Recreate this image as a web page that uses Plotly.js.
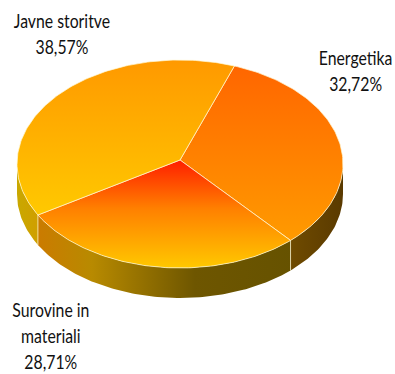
<!DOCTYPE html>
<html><head><meta charset="utf-8">
<script src="https://cdn.plot.ly/plotly-3.0.1.min.js"></script>
<style>html,body{margin:0;padding:0;background:#fff;overflow:hidden}#c{width:395px;height:374px}</style>
</head><body><div id="c"></div>
<script>
const categories = ['Energetika', 'Surovine in<br>materiali', 'Javne storitve'];
const values = [32.72, 28.71, 38.57];
const valueLabels = ['32,72%', '28,71%', '38,57%'];
const topGradients = [
  [[0,'#FF6600'],[1,'#FF9A00']],
  [[0,'#FF1E00'],[0.45,'#FF8000'],[1,'#FFC800']],
  [[0,'#FF9900'],[1,'#FFC800']]
];
const topStops = [[66,239],[160,268],[60,212]];
const sideGradients = [
  [[0,'#6E4A00'],[1,'#5A3A00']],
  [[0,'#CC7A00'],[0.22,'#B88A00'],[0.62,'#6E5600'],[1,'#665200']],
  [[0,'#C9A800'],[1,'#CFA000']]
];
const sideStops = [[293,343],[35,293],[17,35]];
const labelPos = [[355,70],[51,335],[62,33]];

const cx=180, cy=164, rx=163, ry=104, hubY=160, depth=30, startDeg=19.5;
const px=d=>cx+rx*Math.sin(d*Math.PI/180), py=d=>cy-ry*Math.cos(d*Math.PI/180);
const total=values.reduce((a,b)=>a+b,0);
let angle=startDeg; const spans=values.map(v=>{const s=[angle,angle+v/total*360];angle=s[1];return s;});
function arc(a,b){const n=Math.max(2,Math.ceil(Math.abs(b-a)));const A=[];for(let i=0;i<=n;i++)A.push(a+(b-a)*i/n);return A;}
const traces=[];
const rim='rgba(255,250,215,0.7)';
spans.forEach((s,i)=>{
  const a=Math.max(s[0],90), b=Math.min(s[1],270);
  if(b<=a) return;
  const t=arc(a,b);
  const x=t.map(px).concat(t.slice().reverse().map(px));
  const y=t.map(py).concat(t.slice().reverse().map(d=>py(d)+depth));
  x.push(x[0]); y.push(y[0]);
  traces.push({type:'scatter',mode:'lines',x,y,fill:'toself',hoverinfo:'skip',showlegend:false,
    line:{width:0,color:'rgba(0,0,0,0)'},
    fillgradient:{type:'horizontal',colorscale:sideGradients[i],start:sideStops[i][0],stop:sideStops[i][1]}});
});
spans.forEach((s,i)=>{
  const t=arc(s[0],s[1]);
  const x=[cx].concat(t.map(px),[cx]), y=[hubY].concat(t.map(py),[hubY]);
  traces.push({type:'scatter',mode:'lines',x,y,fill:'toself',hoverinfo:'skip',showlegend:false,
    line:{width:1,color:rim},
    fillgradient:{type:'vertical',colorscale:topGradients[i],start:topStops[i][0],stop:topStops[i][1]}});
});
spans.forEach(s=>{ const m=((s[1]%360)+360)%360;
  if(m>90&&m<270) traces.push({type:'scatter',mode:'lines',x:[px(s[1]),px(s[1])],y:[py(s[1]),py(s[1])+depth],hoverinfo:'skip',showlegend:false,line:{width:1,color:rim}});
});
const font={family:'Lato,Roboto,sans-serif',size:20,color:'#111'};
const annotations=categories.map((c,i)=>({x:labelPos[i][0],y:labelPos[i][1],xref:'x',yref:'y',text:c+'<br>'+valueLabels[i],showarrow:false,font,align:'center'}));
Plotly.newPlot('c',traces,{
  width:395,height:374,margin:{l:0,r:0,t:0,b:0},paper_bgcolor:'#fff',plot_bgcolor:'#fff',showlegend:false,
  xaxis:{range:[0,395],visible:false,fixedrange:true},
  yaxis:{range:[374,0],visible:false,fixedrange:true},
  annotations
},{displayModeBar:false,staticPlot:true}).then(gd=>{
  gd.querySelectorAll('.annotation-text').forEach(t=>{
    const b=t.getBBox(), c=b.x+b.width/2;
    t.setAttribute('transform','translate('+c+' 0) scale(0.79 1) translate('+(-c)+' 0)');
  });
});
</script></body></html>
